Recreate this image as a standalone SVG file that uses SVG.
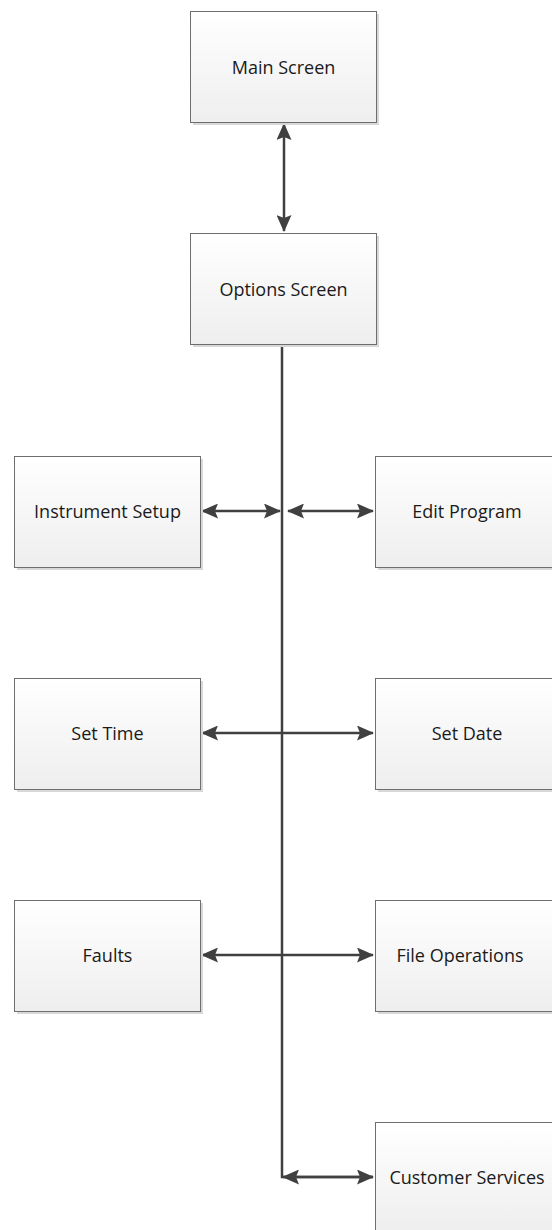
<svg xmlns="http://www.w3.org/2000/svg" width="552" height="1230" viewBox="0 0 552 1230">
<style>
.box{fill:url(#g);stroke:#6e6e6e;stroke-width:1}
.sh{fill:#d8d8d8}
.t{font-family:"Open Sans","Liberation Sans",sans-serif;font-size:18px;fill:#1a1a1a;text-anchor:middle;dominant-baseline:central}
.c{fill:none;stroke:#404040;stroke-width:2.5}
</style>
<defs>
<linearGradient id="g" x1="0" y1="0" x2="0" y2="1">
<stop offset="0" stop-color="#ffffff"/>
<stop offset="1" stop-color="#eeeeee"/>
</linearGradient>
<marker id="a" markerUnits="userSpaceOnUse" markerWidth="17" markerHeight="15" refX="16" refY="7.5" orient="auto-start-reverse">
<path d="M0,0 L17,7.5 L0,15 L3,7.5 z" fill="#404040"/>
</marker>
</defs>
<g id="connectors">
<line class="c" x1="284" y1="124" x2="284" y2="231" marker-start="url(#a)" marker-end="url(#a)"/>
<polyline class="c" points="282,344 282,1177 373,1177"/>
<line class="c" x1="283" y1="1177" x2="373" y2="1177" marker-start="url(#a)" marker-end="url(#a)"/>
<line class="c" x1="202" y1="511" x2="280" y2="511" marker-start="url(#a)" marker-end="url(#a)"/>
<line class="c" x1="288" y1="511" x2="373" y2="511" marker-start="url(#a)" marker-end="url(#a)"/>
<line class="c" x1="202" y1="733" x2="373" y2="733" marker-start="url(#a)" marker-end="url(#a)"/>
<line class="c" x1="202" y1="955" x2="373" y2="955" marker-start="url(#a)" marker-end="url(#a)"/>
</g>
<g id="main-screen">
<rect class="sh" x="193" y="14" width="186" height="111"/>
<rect class="box" x="190.5" y="11.5" width="186" height="111"/>
<text class="t" x="283.5" y="67">Main Screen</text>
</g>
<g id="options-screen">
<rect class="sh" x="193" y="236" width="186" height="111"/>
<rect class="box" x="190.5" y="233.5" width="186" height="111"/>
<text class="t" x="283.5" y="289">Options Screen</text>
</g>
<g id="instrument-setup">
<rect class="sh" x="17" y="459" width="186" height="111"/>
<rect class="box" x="14.5" y="456.5" width="186" height="111"/>
<text class="t" x="107.5" y="511">Instrument Setup</text>
</g>
<g id="edit-program">
<rect class="sh" x="378" y="459" width="186" height="111"/>
<rect class="box" x="375.5" y="456.5" width="186" height="111"/>
<text class="t" x="467" y="511">Edit Program</text>
</g>
<g id="set-time">
<rect class="sh" x="17" y="681" width="186" height="111"/>
<rect class="box" x="14.5" y="678.5" width="186" height="111"/>
<text class="t" x="107.5" y="733">Set Time</text>
</g>
<g id="set-date">
<rect class="sh" x="378" y="681" width="186" height="111"/>
<rect class="box" x="375.5" y="678.5" width="186" height="111"/>
<text class="t" x="467" y="733">Set Date</text>
</g>
<g id="faults">
<rect class="sh" x="17" y="903" width="186" height="111"/>
<rect class="box" x="14.5" y="900.5" width="186" height="111"/>
<text class="t" x="107.5" y="955">Faults</text>
</g>
<g id="file-operations">
<rect class="sh" x="378" y="903" width="186" height="111"/>
<rect class="box" x="375.5" y="900.5" width="186" height="111"/>
<text class="t" x="460" y="955">File Operations</text>
</g>
<g id="customer-services">
<rect class="sh" x="378" y="1125" width="186" height="111"/>
<rect class="box" x="375.5" y="1122.5" width="186" height="111"/>
<text class="t" x="467" y="1177">Customer Services</text>
</g>
</svg>
